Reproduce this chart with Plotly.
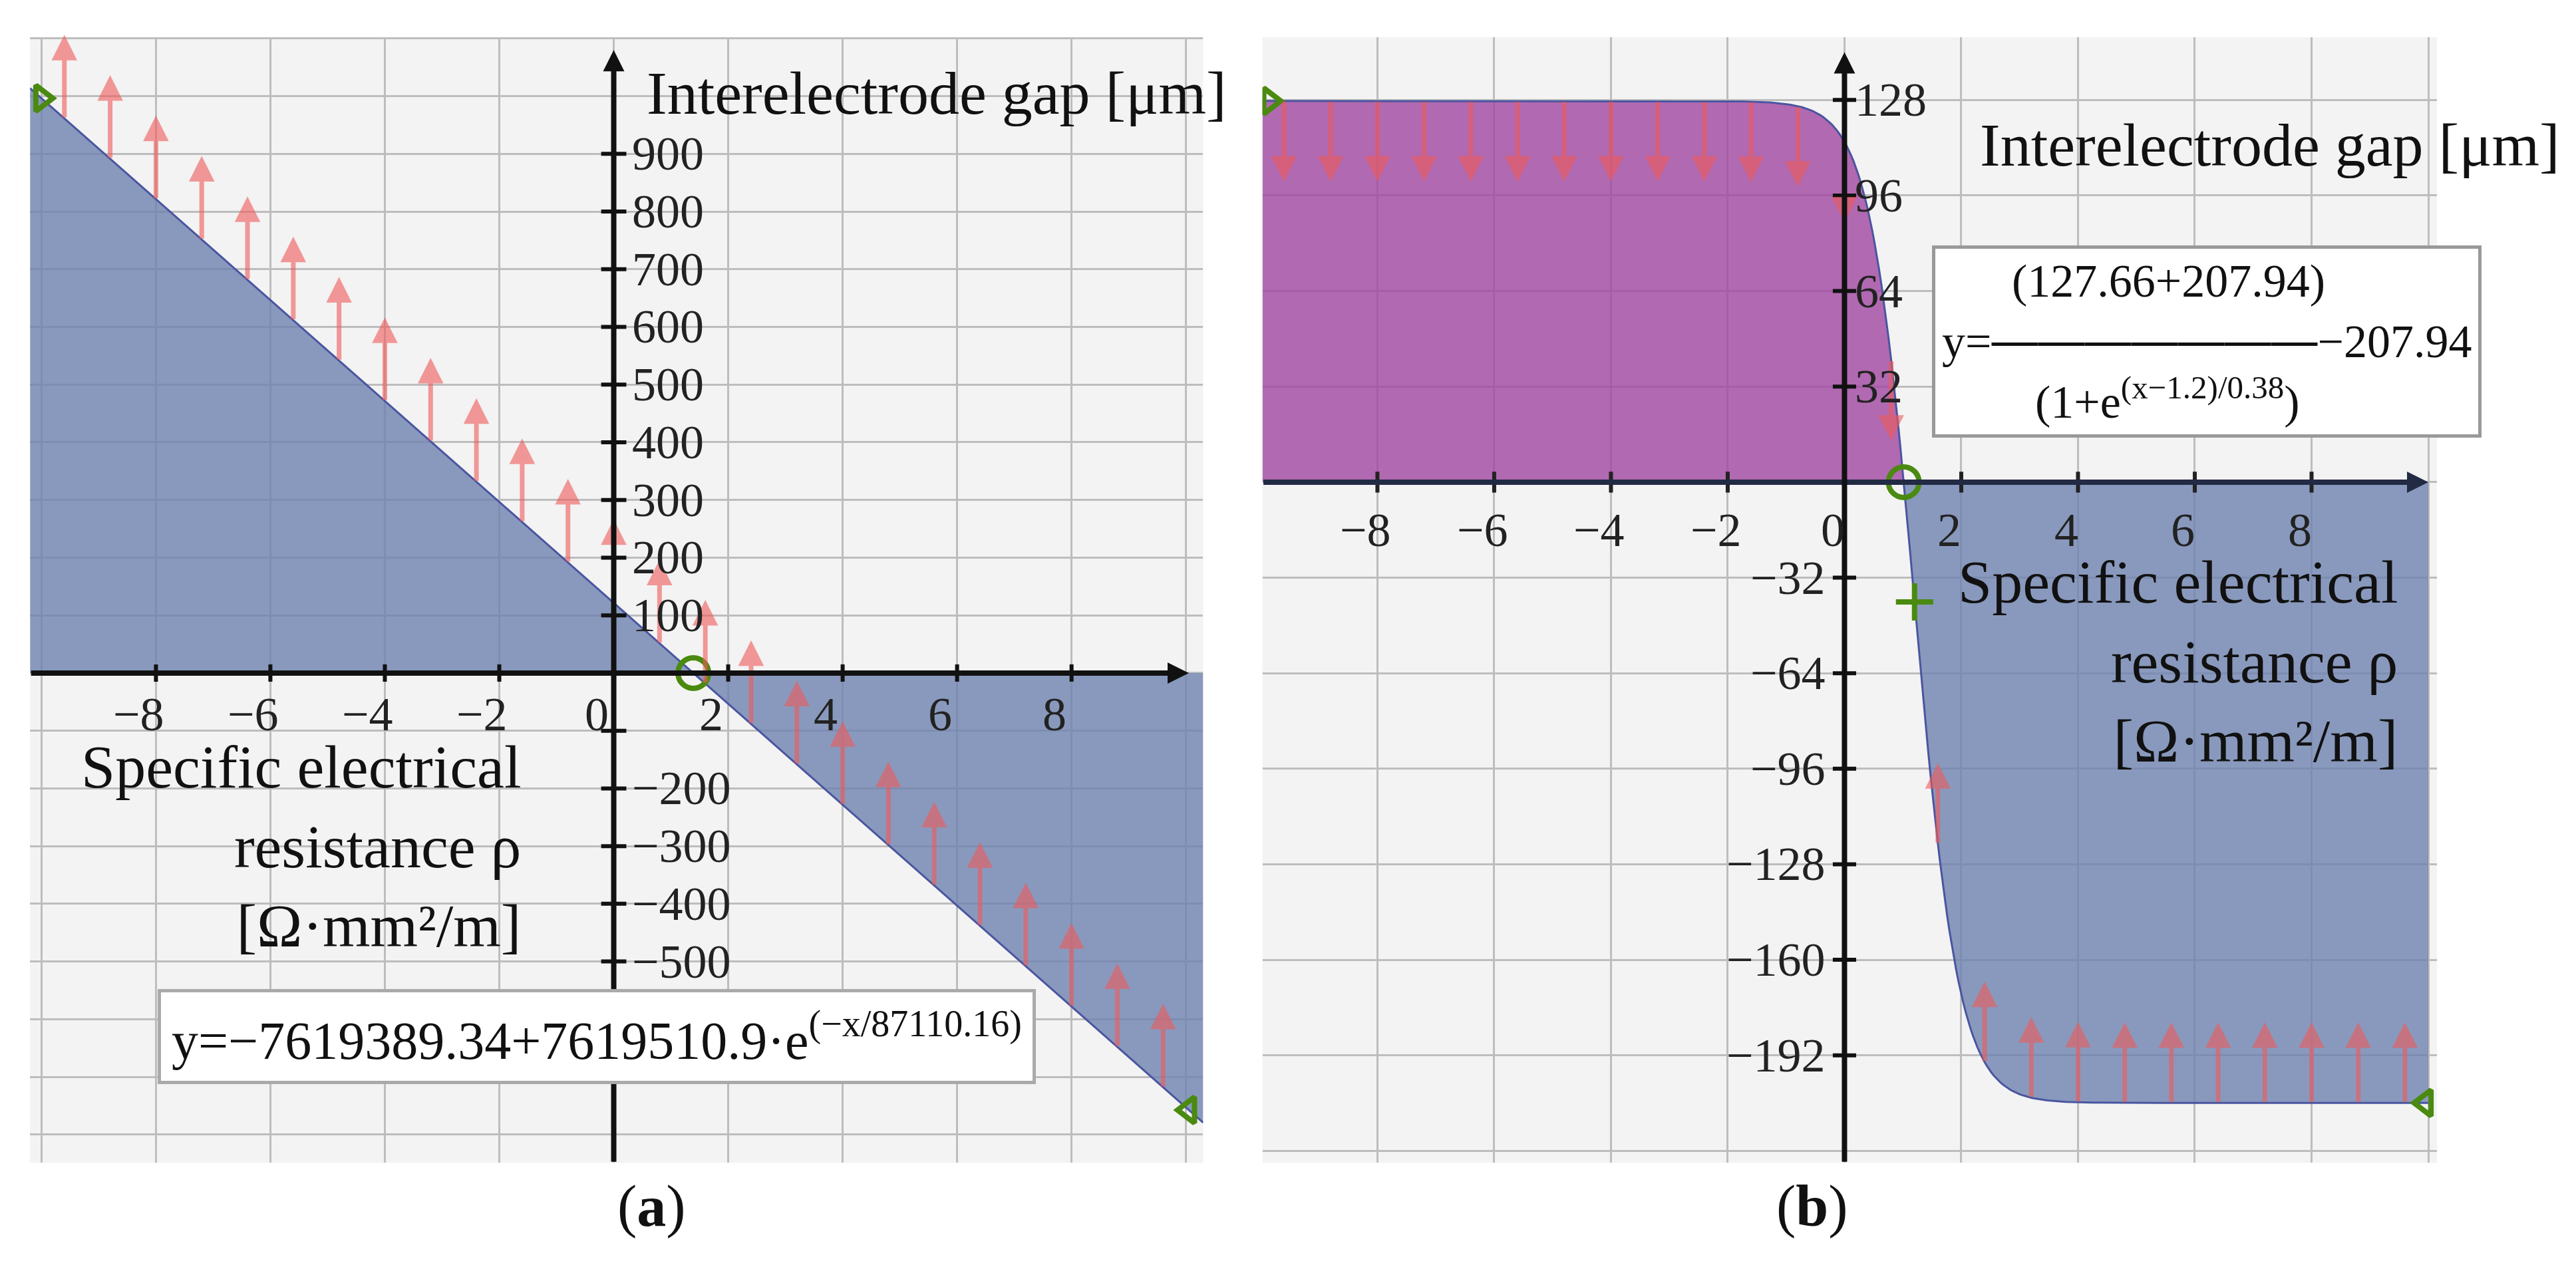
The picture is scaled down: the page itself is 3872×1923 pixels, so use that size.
import numpy as np
import plotly.graph_objects as go

# ---------- data ----------
a_xticks = [-8, -6, -4, -2, 0, 2, 4, 6, 8]
a_yticks_pos = [100, 200, 300, 400, 500, 600, 700, 800, 900]
a_yticks_neg = [-200, -300, -400, -500]
b_xticks = [-8, -6, -4, -2, 0, 2, 4, 6, 8]
b_yticks = [128, 96, 64, 32, -32, -64, -96, -128, -160, -192]
arrow_x = [-9.6 + 0.8 * i for i in range(25)]
a_arrow_len = 145
b_arrow_len = 27
a_c0, a_c1, a_k = -7619389.34, 7619510.9, 87110.16
b_top, b_bot, b_x0, b_s = 127.66, 207.94, 1.2, 0.38
a_root = 1.39
b_root = 1.015
b_mark = 1.2

def fa(x):
    return a_c0 + a_c1 * np.exp(-np.asarray(x) / a_k)

def fb(x):
    return (b_top + b_bot) / (1 + np.exp((np.asarray(x) - b_x0) / b_s)) - b_bot

SERIF = "Liberation Serif"
GREEN = "#4a8a10"
RED = "rgba(240,90,90,0.6)"
BLUE = "rgba(110,130,175,0.8)"
PURPLE = "rgba(160,70,160,0.8)"
TF = dict(family=SERIF, size=72, color="#222")

fig = go.Figure()
ann = []
shapes = []

def gmark(x, y, xa, ya, sym, size):
    fig.add_trace(go.Scatter(x=x, y=y, mode="markers", xaxis=xa, yaxis=ya, hoverinfo="skip",
                             marker=dict(symbol=sym, size=size, color=GREEN,
                                         line=dict(color=GREEN, width=8))))

# ---------- panel a ----------
xa = np.linspace(-10.2, 10.3, 400)
fig.add_trace(go.Scatter(x=xa, y=fa(xa), fill="tozeroy", fillcolor=BLUE,
                         line=dict(color="#4a55a0", width=3), mode="lines",
                         xaxis="x", yaxis="y", hoverinfo="skip"))
for x in arrow_x:
    y0 = float(fa(x))
    ann.append(dict(x=x, y=y0 + a_arrow_len, ax=x, ay=y0, xref="x", yref="y", axref="x", ayref="y",
                    showarrow=True, arrowhead=2, arrowsize=1.1, arrowwidth=7, arrowcolor=RED, text=""))
ann.append(dict(x=10.05, y=0, ax=-10.2, ay=0, xref="x", yref="y", axref="x", ayref="y",
                showarrow=True, arrowhead=2, arrowsize=0.8, arrowwidth=8, arrowcolor="#111", text=""))
ann.append(dict(x=0, y=1080, ax=0, ay=-849, xref="x", yref="y", axref="x", ayref="y",
                showarrow=True, arrowhead=2, arrowsize=0.8, arrowwidth=8, arrowcolor="#111", text=""))
for t in a_xticks:
    ann.append(dict(x=t - 0.3, y=-72, xref="x", yref="y", text=("−" if t < 0 else "") + str(abs(t)),
                    showarrow=False, font=TF))
    if t != 0:
        shapes.append(dict(type="line", xref="x", yref="y", x0=t, x1=t, y0=-15, y1=15,
                           line=dict(color="#111", width=6)))
for t in a_yticks_pos + a_yticks_neg:
    ann.append(dict(x=0.3, y=t, xref="x", yref="y", xanchor="left",
                    text=("−" if t < 0 else "") + str(abs(t)), showarrow=False, font=TF))
for t in a_yticks_pos + [-100] + a_yticks_neg:
    shapes.append(dict(type="line", xref="x", yref="y", x0=-0.22, x1=0.22, y0=t, y1=t,
                       line=dict(color="#111", width=6)))
ann.append(dict(x=0.55, y=1005, xref="x", yref="y", xanchor="left", showarrow=False,
                text="Interelectrode gap [μm]", font=dict(family=SERIF, size=92, color="#111")))
ann.append(dict(x=-1.6, y=-300, xref="x", yref="y", xanchor="right", align="right", showarrow=False,
                text="Specific electrical<br>resistance ρ<br>[Ω·mm²/m]",
                font=dict(family=SERIF, size=92, color="#111")))
ann.append(dict(x=-0.3, y=-630, xref="x", yref="y", showarrow=False,
                text="y=−7619389.34+7619510.9·e<sup>(−x/87110.16)</sup>",
                font=dict(family=SERIF, size=80, color="#111"), bgcolor="white",
                bordercolor="#aaa", borderwidth=5, borderpad=16))
gmark([a_root], [0], "x", "y", "circle-open", 46)
gmark([-10.0, 10.05], [float(fa(-10.0)), float(fa(10.05))], "x", "y",
      ["triangle-right-open", "triangle-left-open"], 34)

# ---------- panel b ----------
xb = np.linspace(-9.97, 10.0, 500)
yb = fb(xb)
fig.add_trace(go.Scatter(x=xb, y=np.maximum(yb, 0), fill="tozeroy", fillcolor=PURPLE,
                         line=dict(width=0), mode="lines", xaxis="x2", yaxis="y2", hoverinfo="skip"))
fig.add_trace(go.Scatter(x=xb, y=np.minimum(yb, 0), fill="tozeroy", fillcolor=BLUE,
                         line=dict(width=0), mode="lines", xaxis="x2", yaxis="y2", hoverinfo="skip"))
fig.add_trace(go.Scatter(x=xb, y=yb, line=dict(color="#4a55a0", width=3), mode="lines",
                         xaxis="x2", yaxis="y2", hoverinfo="skip"))
for x in arrow_x:
    y0 = float(fb(x))
    d = -1 if y0 > 0 else 1
    ann.append(dict(x=x, y=y0 + d * b_arrow_len, ax=x, ay=y0, xref="x2", yref="y2", axref="x2", ayref="y2",
                    showarrow=True, arrowhead=2, arrowsize=1.1, arrowwidth=7, arrowcolor=RED, text=""))
ann.append(dict(x=10.0, y=0, ax=-9.97, ay=0, xref="x2", yref="y2", axref="x2", ayref="y2",
                showarrow=True, arrowhead=2, arrowsize=0.8, arrowwidth=8, arrowcolor="#222a44", text=""))
ann.append(dict(x=0, y=144, ax=0, ay=-228, xref="x2", yref="y2", axref="x2", ayref="y2",
                showarrow=True, arrowhead=2, arrowsize=0.8, arrowwidth=8, arrowcolor="#111", text=""))
for t in b_xticks:
    ann.append(dict(x=t - 0.2, y=-16, xref="x2", yref="y2", text=("−" if t < 0 else "") + str(abs(t)),
                    showarrow=False, font=TF))
    if t != 0:
        shapes.append(dict(type="line", xref="x2", yref="y2", x0=t, x1=t, y0=-3.5, y1=3.5,
                           line=dict(color="#222", width=6)))
for t in b_yticks:
    if t > 0:
        ann.append(dict(x=0.15, y=t, xref="x2", yref="y2", xanchor="left", text=str(t),
                        showarrow=False, font=TF))
    else:
        ann.append(dict(x=-0.3, y=t, xref="x2", yref="y2", xanchor="right", text="−" + str(abs(t)),
                        showarrow=False, font=TF))
    shapes.append(dict(type="line", xref="x2", yref="y2", x0=-0.2, x1=0.2, y0=t, y1=t,
                       line=dict(color="#111", width=6)))
ann.append(dict(x=2.3, y=113, xref="x2", yref="y2", xanchor="left", showarrow=False,
                text="Interelectrode gap [μm]", font=dict(family=SERIF, size=92, color="#111")))
ann.append(dict(x=9.5, y=-60, xref="x2", yref="y2", xanchor="right", align="right", showarrow=False,
                text="Specific electrical<br>resistance ρ<br>[Ω·mm²/m]",
                font=dict(family=SERIF, size=92, color="#111")))
ann.append(dict(x=1.5, y=47, xref="x2", yref="y2", xanchor="left", showarrow=False,
                text="      (127.66+207.94)<br>"
                     "y=<span style='font-family:DejaVu Sans'>―――――――</span>−207.94<br>"
                     "        (1+e<sup>(x−1.2)/0.38</sup>)",
                align="left", font=dict(family=SERIF, size=70, color="#111"), bgcolor="white",
                bordercolor="#999", borderwidth=5, borderpad=10))
gmark([b_root], [0], "x2", "y2", "circle-open", 46)
gmark([b_mark], [float(fb(b_mark))], "x2", "y2", "cross-thin-open", 40)
gmark([-9.85, 9.95], [float(fb(-9.85)), float(fb(9.95))], "x2", "y2",
      ["triangle-right-open", "triangle-left-open"], 34)

# captions
ann.append(dict(x=0.237, y=0.035, xref="paper", yref="paper", showarrow=False,
                text="(<b>a</b>)", font=dict(family=SERIF, size=88, color="#111")))
ann.append(dict(x=0.716, y=0.035, xref="paper", yref="paper", showarrow=False,
                text="(<b>b</b>)", font=dict(family=SERIF, size=88, color="#111")))

ax_common = dict(showticklabels=False, ticks="", zeroline=False, showline=False,
                 gridcolor="#bdbdbd", gridwidth=3)
fig.update_layout(
    width=3872, height=1923, margin=dict(l=0, r=0, t=0, b=0),
    paper_bgcolor="white", plot_bgcolor="#f3f3f3", showlegend=False,
    xaxis=dict(domain=[0.0096, 0.465], range=[-10.2, 10.3], dtick=2, tick0=0, anchor="y", **ax_common),
    yaxis=dict(domain=[0.095, 0.975], range=[-849, 1102], dtick=100, tick0=0, anchor="x", **ax_common),
    xaxis2=dict(domain=[0.488, 0.944], range=[-9.97, 10.15], dtick=2, tick0=0, anchor="y2", **ax_common),
    yaxis2=dict(domain=[0.095, 0.975], range=[-228, 149], dtick=32, tick0=0, anchor="x2", **ax_common),
    annotations=ann, shapes=shapes,
)
fig.write_html("out.html")
